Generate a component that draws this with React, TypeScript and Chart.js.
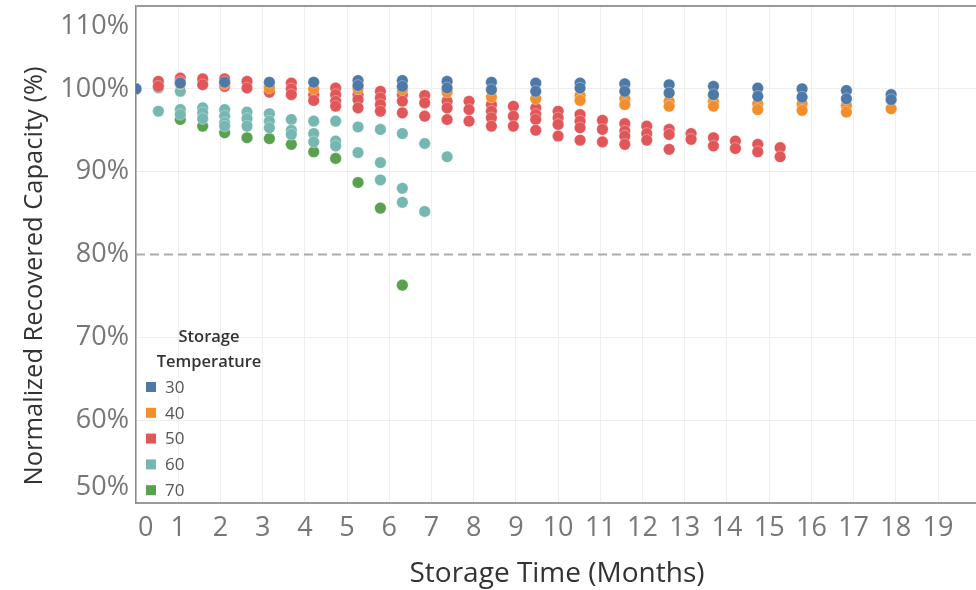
import React, { useEffect, useRef } from "react";
import { Chart, registerables } from "chart.js";

Chart.register(...registerables);

// Storage temperature groups and their mark colours
const temperatures = ["30", "40", "50", "60", "70"];
const colors = ["#4e79a7", "#f28e2b", "#e15759", "#76b7b2", "#59a14f"];

// Axis ticks
const xTicks = [0, 1, 2, 3, 4, 5, 6, 7, 8, 9, 10, 11, 12, 13, 14, 15, 16, 17, 18, 19];
const yTicks = [50, 60, 70, 80, 90, 100, 110];
const referenceLevel = 80;

// 30 °C: storage time (months) and normalized recovered capacity (%)
const months30 = [0, 1.05, 2.1, 3.16, 4.21, 5.26, 5.26, 6.31, 6.31, 7.37, 7.37, 8.42, 8.42, 9.47, 9.47,
  10.52, 10.52, 11.58, 11.58, 12.63, 12.63, 13.68, 13.68, 14.73, 14.73, 15.78, 15.78, 16.83, 16.83, 17.89, 17.89];
const capacity30 = [100.0, 100.7, 100.8, 100.8, 100.8, 101.0, 100.4, 101.0, 100.3, 100.9, 100.1, 100.8, 99.9, 100.7, 99.7,
  100.7, 100.1, 100.6, 99.7, 100.5, 99.5, 100.3, 99.3, 100.1, 99.1, 100.0, 99.0, 99.8, 98.8, 99.3, 98.7];

// 40 °C
const months40 = [0, 1.05, 2.1, 3.16, 4.21, 5.26, 6.31, 7.37, 8.42, 9.47, 10.52, 10.52, 11.58, 11.58, 12.63, 12.63,
  13.68, 13.68, 14.73, 14.73, 15.78, 15.78, 16.83, 16.83, 17.89];
const capacity40 = [100.0, 100.6, 100.6, 100.1, 100.0, 100.0, 99.9, 99.6, 99.0, 98.8, 99.2, 98.6, 98.8, 98.1, 98.5, 97.9,
  98.5, 97.9, 98.2, 97.5, 98.2, 97.4, 98.0, 97.2, 97.6];

// 50 °C
const months50 = [0, 0.53, 0.53, 1.05, 1.05, 1.58, 1.58, 2.1, 2.1, 2.63, 2.63, 3.16, 3.16, 3.68, 3.68, 3.68,
  4.21, 4.21, 4.73, 4.73, 4.73, 4.73, 5.26, 5.26, 5.26, 5.79, 5.79, 5.79, 5.79, 6.31, 6.31, 6.31,
  6.84, 6.84, 6.84, 7.37, 7.37, 7.37, 7.89, 7.89, 7.89, 8.42, 8.42, 8.42, 8.42, 8.94, 8.94, 8.94,
  9.47, 9.47, 9.47, 9.47, 10.0, 10.0, 10.0, 10.0, 10.52, 10.52, 10.52, 10.52, 11.05, 11.05, 11.05,
  11.58, 11.58, 11.58, 11.58, 12.1, 12.1, 12.1, 12.63, 12.63, 12.63, 13.15, 13.15, 13.68, 13.68,
  14.2, 14.2, 14.73, 14.73, 15.26, 15.26];
const capacity50 = [100.0, 100.9, 100.3, 101.3, 100.9, 101.2, 100.5, 101.2, 100.3, 100.9, 100.1, 100.3, 99.6, 100.7, 100.0, 99.3,
  99.3, 98.6, 100.1, 99.3, 98.5, 97.9, 99.3, 98.7, 97.7, 99.7, 98.9, 98.1, 97.3, 99.3, 98.5, 97.1,
  99.2, 98.3, 96.7, 98.5, 97.7, 96.3, 98.5, 97.5, 96.1, 98.1, 97.3, 96.5, 95.5, 97.9, 96.7, 95.5,
  97.7, 96.9, 96.3, 95.0, 97.3, 96.5, 95.7, 94.3, 96.9, 96.1, 95.3, 93.8, 96.2, 95.1, 93.6,
  95.8, 94.9, 94.3, 93.3, 95.5, 94.6, 93.8, 95.1, 94.5, 92.7, 94.6, 93.9, 94.1, 93.1,
  93.7, 92.8, 93.3, 92.4, 92.9, 91.8];

// 60 °C
const months60 = [0, 0.53, 0.53, 1.05, 1.05, 1.05, 1.58, 1.58, 1.58, 2.1, 2.1, 2.1, 2.1, 2.63, 2.63, 2.63,
  3.16, 3.16, 3.16, 3.68, 3.68, 3.68, 4.21, 4.21, 4.21, 4.73, 4.73, 4.73, 5.26, 5.26,
  5.79, 5.79, 5.79, 6.31, 6.31, 6.31, 6.84, 6.84, 7.37];
const capacity60 = [100.0, 100.1, 97.3, 99.7, 97.5, 96.9, 97.7, 97.1, 96.4, 97.5, 96.7, 95.9, 95.5, 97.2, 96.4, 95.5,
  97.0, 96.1, 95.3, 96.3, 95.0, 94.5, 96.1, 94.6, 93.6, 96.1, 93.7, 93.1, 95.4, 92.3,
  95.1, 91.1, 89.0, 94.6, 88.0, 86.3, 93.4, 85.2, 91.8];

// 70 °C
const months70 = [0, 1.05, 1.58, 2.1, 2.63, 3.16, 3.68, 4.21, 4.73, 5.26, 5.79, 6.31];
const capacity70 = [100.0, 96.3, 95.5, 94.7, 94.1, 94.0, 93.3, 92.4, 91.6, 88.7, 85.6, 76.3];

const seriesMonths = [months30, months40, months50, months60, months70];
const seriesCapacity = [capacity30, capacity40, capacity50, capacity60, capacity70];

const FONT = '"Open Sans", "DejaVu Sans", sans-serif';

const decorations = {
  id: "decorations",
  beforeDatasetsDraw(chart: any) {
    const { ctx, chartArea, scales } = chart;
    const y = scales.y.getPixelForValue(referenceLevel);
    ctx.save();
    ctx.strokeStyle = "#ababab";
    ctx.lineWidth = 2;
    ctx.setLineDash([9, 5]);
    ctx.beginPath();
    ctx.moveTo(chartArea.left, y);
    ctx.lineTo(chartArea.right, y);
    ctx.stroke();
    ctx.restore();
  },
  afterDraw(chart: any) {
    const { ctx, chartArea, scales } = chart;
    ctx.save();

    // y tick labels, kept inside the plot's vertical range
    ctx.font = `27px ${FONT}`;
    ctx.fillStyle = "#777777";
    ctx.textAlign = "right";
    ctx.textBaseline = "middle";
    for (const v of yTicks) {
      let py = scales.y.getPixelForValue(v);
      py = Math.min(Math.max(py, chartArea.top + 20), chartArea.bottom - 16);
      ctx.fillText(`${v}%`, 129, py);
    }

    // x tick labels
    ctx.textAlign = "center";
    for (const v of xTicks) {
      const label = String(v);
      const half = ctx.measureText(label).width / 2;
      let px = scales.x.getPixelForValue(v);
      px = Math.max(px, chartArea.left + half + 2);
      ctx.fillText(label, px, 528);
    }

    // axis titles
    ctx.fillStyle = "#333333";
    ctx.font = `28px ${FONT}`;
    ctx.fillText("Storage Time (Months)", 557, 574);
    ctx.save();
    ctx.translate(35, 276);
    ctx.rotate(-Math.PI / 2);
    ctx.font = `25.5px ${FONT}`;
    ctx.fillText("Normalized Recovered Capacity (%)", 0, 0);
    ctx.restore();

    // legend
    ctx.font = `600 16.5px ${FONT}`;
    ctx.fillStyle = "#333333";
    ctx.textAlign = "center";
    ctx.fillText("Storage", 209, 337);
    ctx.fillText("Temperature", 209, 362);
    ctx.font = `17px ${FONT}`;
    ctx.textAlign = "left";
    temperatures.forEach((t, i) => {
      const cy = 387 + i * 25.8;
      ctx.fillStyle = colors[i];
      ctx.fillRect(146, cy - 5, 10, 10);
      ctx.fillStyle = "#555555";
      ctx.fillText(t, 165, cy + 1);
    });

    ctx.restore();
  },
};

export default function App() {
  const canvasRef = useRef<HTMLCanvasElement | null>(null);

  useEffect(() => {
    document.body.style.margin = "0";
    const canvas = canvasRef.current;
    if (!canvas) return;

    const datasets = temperatures.map((t, i) => ({
      label: t,
      data: seriesMonths[i].map((m, j) => ({ x: m, y: seriesCapacity[i][j] })),
      backgroundColor: colors[i],
      borderColor: "rgba(255,255,255,0.55)",
      pointRadius: 5.8,
      pointBorderWidth: 0.6,
      pointHoverRadius: 5.8,
      clip: { left: 0, top: false, right: false, bottom: false },
    }));

    const chart = new Chart(canvas, {
      type: "scatter",
      data: { datasets },
      options: {
        responsive: false,
        animation: false,
        events: [],
        layout: { autoPadding: false, padding: { top: 6, right: 0, left: 0, bottom: 0 } },
        plugins: {
          legend: { display: false },
          tooltip: { enabled: false },
        },
        scales: {
          x: {
            type: "linear",
            min: 0,
            max: 19.9,
            afterBuildTicks: (scale: any) => {
              scale.ticks = xTicks.map((v) => ({ value: v }));
            },
            afterFit: (scale: any) => {
              scale.height = 87;
            },
            ticks: { display: false },
            grid: { color: "#eeeeee", lineWidth: 1, drawTicks: false },
            border: { color: "#9a9a9a", width: 2 },
          },
          y: {
            type: "linear",
            min: 50,
            max: 110,
            afterBuildTicks: (scale: any) => {
              scale.ticks = yTicks.map((v) => ({ value: v }));
            },
            afterFit: (scale: any) => {
              scale.width = 136;
            },
            ticks: { display: false },
            grid: {
              drawTicks: false,
              color: (c: any) =>
                c.tick && c.tick.value === 110
                  ? "#9a9a9a"
                  : c.tick && c.tick.value === referenceLevel
                  ? "rgba(0,0,0,0)"
                  : "#eeeeee",
              lineWidth: (c: any) => (c.tick && c.tick.value === 110 ? 2 : 1),
            },
            border: { color: "#8a8a8a", width: 1.5 },
          },
        },
      },
      plugins: [decorations],
    });

    return () => chart.destroy();
  }, []);

  return (
    <div style={{ position: "fixed", left: 0, top: 0, width: 976, height: 590, background: "#ffffff" }}>
      <canvas ref={canvasRef} width={976} height={590} style={{ width: 976, height: 590 }} />
    </div>
  );
}
